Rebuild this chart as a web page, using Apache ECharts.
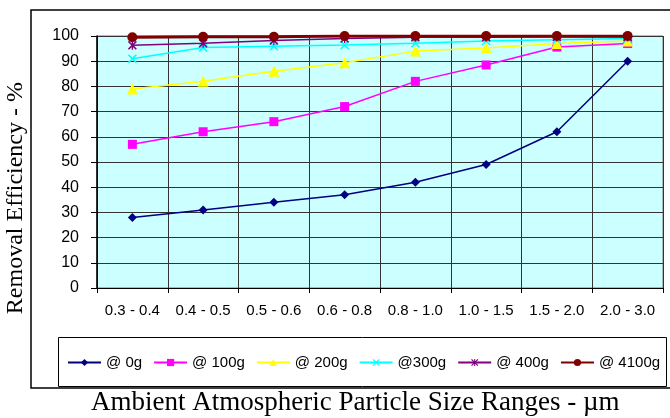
<!DOCTYPE html>
<html>
<head>
<meta charset="utf-8">
<script src="https://cdn.jsdelivr.net/npm/echarts@6/dist/echarts.min.js"></script>
<style>html,body{margin:0;padding:0;background:#fff;}#c{width:670px;height:418px;}</style>
</head>
<body>
<div id="c"></div>
<script>
var categories = ['0.3 - 0.4','0.4 - 0.5','0.5 - 0.6','0.6 - 0.8','0.8 - 1.0','1.0 - 1.5','1.5 - 2.0','2.0 - 3.0'];
var seriesNames = ['@ 0g','@ 100g','@ 200g','@300g','@ 400g','@ 4100g'];
var s0g    = [28, 31, 34, 37, 42, 49, 62, 90];
var s100g  = [57, 62, 66, 72, 82, 88.5, 95.6, 97];
var s200g  = [79, 82, 86, 89.4, 94, 95.2, 97, 98];
var s300g  = [91, 95.4, 95.9, 96.4, 97.1, 98, 98.5, 99];
var s400g  = [96.3, 97.1, 98.2, 99, 99.5, 99.5, 99.6, 99.6];
var s4100g = [99.5, 99.7, 99.7, 100, 100, 100, 100, 100];
var yTicks = [0,10,20,30,40,50,60,70,80,90,100];

var colors = ['#000080','#ff00ff','#ffff00','#00ffff','#800080','#800000'];
var xPath = 'path://M0,1.2 L1.2,0 L5,3.8 L8.8,0 L10,1.2 L6.2,5 L10,8.8 L8.8,10 L5,6.2 L1.2,10 L0,8.8 L3.8,5 Z';
var starPath = 'path://M0,1.2 L1.2,0 L5,3.8 L8.8,0 L10,1.2 L6.2,5 L10,8.8 L8.8,10 L5,6.2 L1.2,10 L0,8.8 L3.8,5 Z M4.3,0 L5.7,0 L5.7,10 L4.3,10 Z';
var symbols = ['diamond','rect','triangle',xPath,starPath,'circle'];
var sizes = [9, 9, 11, 9, 9, 10];
var widths = [1.5, 1.5, 1.5, 1.5, 1.5, 3];
var dataSets = [s0g, s100g, s200g, s300g, s400g, s4100g];

var series = dataSets.map(function(d, i){
  return {
    name: seriesNames[i], type: 'line', data: d,
    symbol: symbols[i], symbolSize: sizes[i], showSymbol: true,
    lineStyle: {color: colors[i], width: widths[i]},
    itemStyle: {color: colors[i], borderWidth: 0},
    z: 3 + i, animation: false
  };
});

var chart = echarts.init(document.getElementById('c'));
chart.setOption({
  animation: false,
  backgroundColor: '#ffffff',
  grid: {left: 97, right: 7, top: 36, bottom: 130, show: true, backgroundColor: '#ccffff', borderColor: '#777', borderWidth: 1},
  xAxis: {
    type: 'category', data: categories, boundaryGap: true,
    axisLine: {lineStyle: {color: '#000', width: 1}},
    axisTick: {show: true, length: 5, interval: 0, lineStyle: {color: '#000'}},
    axisLabel: {interval: 0, margin: 15, fontFamily: 'Arial, Liberation Sans', fontSize: 15, color: '#000'},
    splitLine: {show: true, interval: 0, lineStyle: {color: '#333', width: 1}}
  },
  yAxis: {
    type: 'value', min: yTicks[0], max: yTicks[yTicks.length-1], interval: 10,
    axisLine: {show: true, lineStyle: {color: '#000', width: 1.5}},
    axisTick: {show: true, length: 6, lineStyle: {color: '#000'}},
    axisLabel: {margin: 18, fontFamily: 'Arial, Liberation Sans', fontSize: 16, color: '#000'},
    splitLine: {show: true, lineStyle: {color: '#333', width: 1}}
  },
  legend: {
    data: seriesNames, left: 67, top: 355,
    itemWidth: 33, itemHeight: 9, itemGap: 11,
    textStyle: {fontFamily: 'Arial, Liberation Sans', fontSize: 15, color: '#000'},
    padding: 0
  },
  graphic: [
    {type: 'rect', shape: {x: 31, y: 10, width: 660, height: 378}, style: {fill: 'none', stroke: '#000', lineWidth: 1.5}, z: -10, silent: true},
    {type: 'rect', shape: {x: 58.5, y: 337.5, width: 608, height: 49}, style: {fill: '#fff', stroke: '#000', lineWidth: 1}, z: -5, silent: true},
    {type: 'text', left: 4, top: 82, rotation: Math.PI/2,
      style: {text: 'Removal Efficiency - %', fontFamily: 'Liberation Serif', fontSize: 24, fill: '#000'}, silent: true},
    {type: 'text', left: 91, top: 389,
      style: {text: 'Ambient Atmospheric Particle Size Ranges - \u00b5m', fontFamily: 'Liberation Serif', fontSize: 27, fill: '#000'}, silent: true}
  ],
  series: series
});
</script>
</body>
</html>
